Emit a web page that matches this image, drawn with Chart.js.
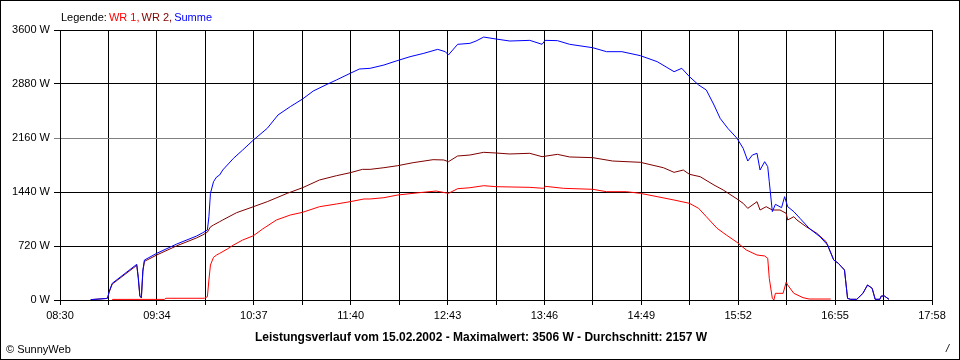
<!DOCTYPE html>
<html>
<head>
<meta charset="utf-8">
<script src="https://cdn.jsdelivr.net/npm/chart.js@4/dist/chart.umd.min.js"></script>
<style>
html,body{margin:0;padding:0;background:#fff;}
canvas{display:block;}
</style>
</head>
<body>
<canvas id="c" width="960" height="360"></canvas>
<script>
// ---- tick labels / axis range (minutes since midnight) ----
const timeLabels = ["08:30","09:34","10:37","11:40","12:43","13:46","14:49","15:52","16:55","17:58"];
const xMin = 510;   // 08:30
const xMax = 1078;  // 17:58
const yMax = 3600;
const yStep = 720;

// ---- series: WR 1 ----
const wr1Times = [544,578,579,604,606,607,608,610,612,614,619,623,629,636,642,651,660,668,679,690,699,708,712,721,730,744,755,763,769,777,786,794,816,825,826,838,857,866,879,888,899,910,920,926,931,938,944,951,957,964,969,971,972,974,975,976,981,983,984,988,994,998,1012];
const wr1Values = [8,8,23,23,44,267,467,569,600,622,680,733,800,857,947,1067,1133,1169,1244,1280,1311,1347,1347,1364,1400,1431,1453,1422,1484,1497,1524,1511,1502,1489,1516,1489,1476,1444,1444,1422,1378,1333,1289,1222,1111,956,867,769,667,600,587,556,289,22,0,89,89,236,200,89,31,13,13];

// ---- series: WR 2 ----
const wr2Times = [530,540,541,542,544,560,561,562,563,564,565,573,586,599,603,606,608,610,614,616,625,636,645,658,668,679,690,699,707,712,721,730,740,753,760,763,769,777,786,794,803,816,824,834,842,857,870,888,903,910,916,920,927,936,942,951,955,958,964,966,970,974,979,983,984,988,990,996,1003,1009,1014,1017,1019,1021,1023,1025,1029,1033,1036,1039,1041,1044,1045,1047,1050];
const wr2Values = [5,20,25,105,212,462,290,50,26,385,515,600,722,828,868,905,975,1000,1044,1067,1164,1244,1311,1422,1497,1600,1657,1697,1742,1742,1764,1791,1831,1871,1867,1844,1920,1933,1969,1960,1947,1956,1911,1942,1907,1898,1853,1836,1764,1702,1733,1676,1644,1533,1467,1347,1289,1222,1311,1200,1244,1200,1200,1156,1067,1111,1067,978,889,778,533,489,444,400,22,9,9,89,200,156,9,9,53,53,9];

// ---- series: Summe ----
const sumTimes = [530,540,541,542,544,560,561,562,563,564,565,573,586,599,603,606,607,608,610,612,614,616,623,629,636,645,652,660,668,675,684,690,699,705,712,721,729,738,747,756,761,763,769,777,781,786,794,803,816,824,826,834,842,857,866,876,888,899,910,915,920,926,931,936,940,945,951,955,958,961,964,966,969,971,972,974,976,980,982,984,988,992,998,1005,1010,1014,1017,1019,1021,1023,1025,1029,1033,1036,1039,1041,1044,1045,1047,1050];
const sumValues = [5,20,25,110,222,476,300,60,36,400,533,622,746,853,897,933,1110,1422,1577,1640,1667,1733,1889,2000,2133,2289,2467,2578,2680,2787,2876,2933,3022,3080,3089,3133,3187,3244,3289,3342,3311,3267,3409,3422,3453,3506,3480,3453,3462,3409,3462,3458,3409,3364,3311,3311,3258,3178,3044,3089,2978,2867,2800,2600,2422,2289,2156,2022,1853,1933,1956,1733,1844,1778,1578,1178,1276,1231,1378,1244,1178,1089,956,844,733,533,489,444,400,22,9,9,89,200,156,9,9,53,53,9];

// ---- texts ----
const seriesNames = ["WR 1","WR 2","Summe"];
const legendTitle = "Legende: ";
const reportDate = "15.02.2002";
const maxValue = 3506;
const avgValue = 2157;
const copyrightText = "\u00A9 SunnyWeb";
const pageMark = "/";

const zip = (t, v) => t.map((x, i) => ({x: x, y: v[i]}));
const FONT = '"Liberation Sans", Arial, sans-serif';
Chart.defaults.font.family = FONT;
Chart.defaults.font.size = 11;
Chart.defaults.color = '#000';

const decor = {
  id: 'decor',
  beforeDraw(chart) {
    const ctx = chart.ctx;
    ctx.save();
    ctx.fillStyle = '#fff';
    ctx.fillRect(0, 0, chart.width, chart.height);
    ctx.restore();
  },
  afterDraw(chart) {
    const ctx = chart.ctx;
    ctx.save();
    ctx.strokeStyle = '#000';
    ctx.lineWidth = 1;
    ctx.strokeRect(0.5, 0.5, chart.width - 1, chart.height - 1);
    ctx.textBaseline = 'alphabetic';
    ctx.textAlign = 'left';
    // legend
    ctx.font = '11px ' + FONT;
    let x = chart.chartArea.left + 1;
    const ly = 21;
    ctx.fillStyle = '#000';
    ctx.fillText(legendTitle, x, ly);
    x += ctx.measureText(legendTitle).width - 1;
    const dss = chart.data.datasets;
    dss.forEach((ds, i) => {
      const t = ds.label + (i < dss.length - 1 ? ', ' : '');
      ctx.fillStyle = ds.borderColor;
      ctx.fillText(t, x, ly);
      x += ctx.measureText(t).width - 1;
    });
    // caption
    ctx.font = 'bold 12px ' + FONT;
    ctx.fillStyle = '#000';
    ctx.textAlign = 'center';
    const caption = 'Leistungsverlauf vom ' + reportDate + ' - Maximalwert: ' + maxValue + ' W - Durchschnitt: ' + avgValue + ' W';
    ctx.fillText(caption, chart.width / 2 + 1, 341);
    // copyright
    ctx.font = '11px ' + FONT;
    ctx.textAlign = 'left';
    ctx.fillText(copyrightText, 6, 353);
    ctx.font = 'italic 11px ' + FONT;
    ctx.fillText(pageMark, 946, 352);
    ctx.restore();
  }
};

new Chart(document.getElementById('c'), {
  type: 'line',
  data: {
    datasets: [
      {label: seriesNames[0], data: zip(wr1Times, wr1Values), borderColor: '#ff0000', order: 3},
      {label: seriesNames[1], data: zip(wr2Times, wr2Values), borderColor: '#800000', order: 2},
      {label: seriesNames[2], data: zip(sumTimes, sumValues), borderColor: '#0000ff', order: 1}
    ]
  },
  options: {
    responsive: false,
    animation: false,
    devicePixelRatio: 1,
    elements: {
      line: {borderWidth: 1, tension: 0, fill: false},
      point: {radius: 0, hoverRadius: 0}
    },
    layout: {padding: {top: 30, right: 28, bottom: 0, left: 0}},
    plugins: {legend: {display: false}, tooltip: {enabled: false}, title: {display: false}},
    events: [],
    scales: {
      x: {
        type: 'linear',
        min: xMin,
        max: xMax,
        afterBuildTicks(scale) {
          const n = (timeLabels.length - 1) * 2;
          scale.ticks = Array.from({length: n + 1}, (_, i) => ({value: xMin + i * (xMax - xMin) / n}));
        },
        afterFit(scale) { scale.height = 60; },
        ticks: {
          autoSkip: false,
          maxRotation: 0,
          minRotation: 0,
          padding: 4,
          color: '#000',
          callback: (v, i) => (i % 2 === 0 ? timeLabels[i / 2] : '')
        },
        grid: {color: '#000', lineWidth: 1, drawTicks: true, tickLength: 5},
        border: {display: true, color: '#000', width: 1}
      },
      y: {
        type: 'linear',
        min: 0,
        max: yMax,
        afterFit(scale) { scale.width = 60; },
        ticks: {
          stepSize: yStep,
          padding: 4,
          color: '#000',
          callback: (v) => v + ' W'
        },
        grid: {
          color: (c) => (c.tick && c.tick.value === 2160 ? '#808080' : '#000'),
          lineWidth: 1,
          drawTicks: true,
          tickLength: 6
        },
        border: {display: true, color: '#000', width: 1}
      }
    }
  },
  plugins: [decor]
});
</script>
</body>
</html>
